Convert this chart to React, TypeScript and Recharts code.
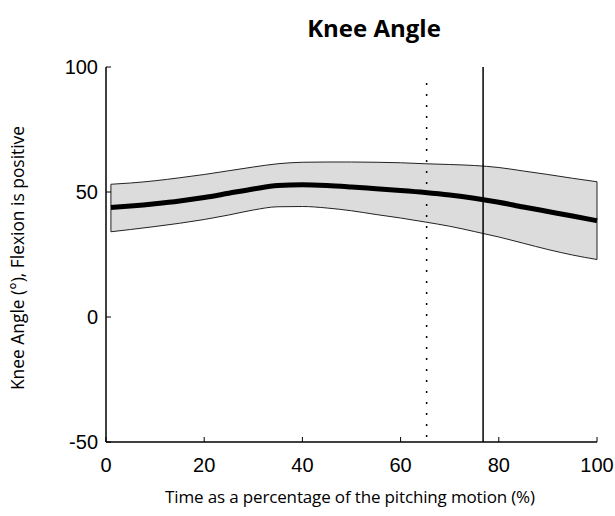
import { ComposedChart, Area, Line, XAxis, YAxis, ReferenceLine } from "recharts"

const time = [1, 5, 10, 15, 20, 25, 30, 35, 40, 45, 50, 55, 60, 65, 70, 75, 80, 85, 90, 95, 100]
const mean = [43.8, 44.4, 45.3, 46.4, 47.8, 49.5, 51.2, 52.6, 52.9, 52.6, 52.0, 51.3, 50.6, 49.8, 48.8, 47.5, 45.9, 44.0, 42.2, 40.4, 38.5]
const upper = [53.1, 53.6, 54.5, 55.7, 57.0, 58.5, 60.0, 61.3, 61.9, 62.0, 62.0, 61.9, 61.7, 61.3, 61.0, 60.6, 59.8, 58.4, 57.0, 55.5, 54.1]
const lower = [34.1, 35.0, 36.2, 37.5, 39.0, 40.8, 42.8, 44.1, 44.2, 43.6, 42.5, 41.0, 39.6, 38.0, 36.3, 34.2, 32.0, 29.5, 27.0, 24.8, 23.0]

const xTicks = [0, 20, 40, 60, 80, 100]
const yTicks = [-50, 0, 50, 100]
const dashedAt = 65.3
const solidAt = 76.8

const data = time.map((t, i) => ({ t, mean: mean[i], band: [lower[i], upper[i]] }))

const tickFont = "'Liberation Sans', Arial, sans-serif"
const labelFont = "'Open Sans', 'Noto Sans', sans-serif"

function XTick(props: any) {
  const { x, y, payload } = props
  return (
    <g>
      <line x1={x} y1={y} x2={x} y2={y - 5} stroke="#000" />
      <text x={x} y={y + 30} textAnchor="middle" fontSize={20} fontFamily={tickFont} fill="#000">
        {payload.value}
      </text>
    </g>
  )
}

function YTick(props: any) {
  const { x, y, payload } = props
  return (
    <g>
      <line x1={x} y1={y} x2={x + 5} y2={y} stroke="#000" />
      <text x={x - 8} y={y + 7} textAnchor="end" fontSize={20} fontFamily={tickFont} fill="#000">
        {payload.value}
      </text>
    </g>
  )
}

export default function App() {
  return (
    <div style={{ position: "absolute", left: 0, top: 0, width: 615, height: 516, background: "#fff" }}>
      <svg width={615} height={516} style={{ position: "absolute", left: 0, top: 0, pointerEvents: "none" }}>
        <text x={374} y={37} textAnchor="middle" fontSize={24} fontWeight="bold" fontFamily={labelFont} fill="#000">
          Knee Angle
        </text>
        <text x={350} y={503} textAnchor="middle" fontSize={17} letterSpacing={-0.15} fontFamily={labelFont} fill="#000">
          Time as a percentage of the pitching motion (%)
        </text>
        <text
          x={24}
          y={258}
          textAnchor="middle"
          fontSize={17.4}
          fontFamily={labelFont}
          fill="#000"
          transform="rotate(-90 24 258)"
        >
          Knee Angle (°), Flexion is positive
        </text>
      </svg>
      <ComposedChart width={615} height={516} data={data} margin={{ top: 67, right: 18, bottom: 0, left: 0 }}>
        <XAxis
          dataKey="t"
          type="number"
          domain={[0, 100]}
          ticks={xTicks}
          height={74}
          tickSize={0}
          tickMargin={0}
          tickLine={false}
          axisLine={{ stroke: "#000", strokeWidth: 1.5 }}
          tick={<XTick />}
          interval={0}
        />
        <YAxis
          type="number"
          domain={[-50, 100]}
          ticks={yTicks}
          width={106}
          tickSize={0}
          tickMargin={0}
          tickLine={false}
          axisLine={{ stroke: "#000", strokeWidth: 1.5 }}
          tick={<YTick />}
          interval={0}
        />
        <Area
          dataKey="band"
          type="monotone"
          fill="#dcdcdc"
          fillOpacity={1}
          stroke="#222"
          strokeWidth={1}
          isAnimationActive={false}
        />
        <ReferenceLine
          segment={[{ x: time[0], y: lower[0] }, { x: time[0], y: upper[0] }]}
          stroke="#222"
          strokeWidth={1}
        />
        <ReferenceLine
          segment={[{ x: time[time.length - 1], y: lower[lower.length - 1] }, { x: time[time.length - 1], y: upper[upper.length - 1] }]}
          stroke="#222"
          strokeWidth={1}
        />
        <Line
          dataKey="mean"
          type="monotone"
          stroke="#000"
          strokeWidth={5}
          dot={false}
          isAnimationActive={false}
        />
        <ReferenceLine
          segment={[{ x: dashedAt, y: -48 }, { x: dashedAt, y: 95 }]}
          stroke="#000"
          strokeWidth={1.5}
          strokeDasharray="2 9"
        />
        <ReferenceLine x={solidAt} stroke="#000" strokeWidth={1.5} />
      </ComposedChart>
    </div>
  )
}
